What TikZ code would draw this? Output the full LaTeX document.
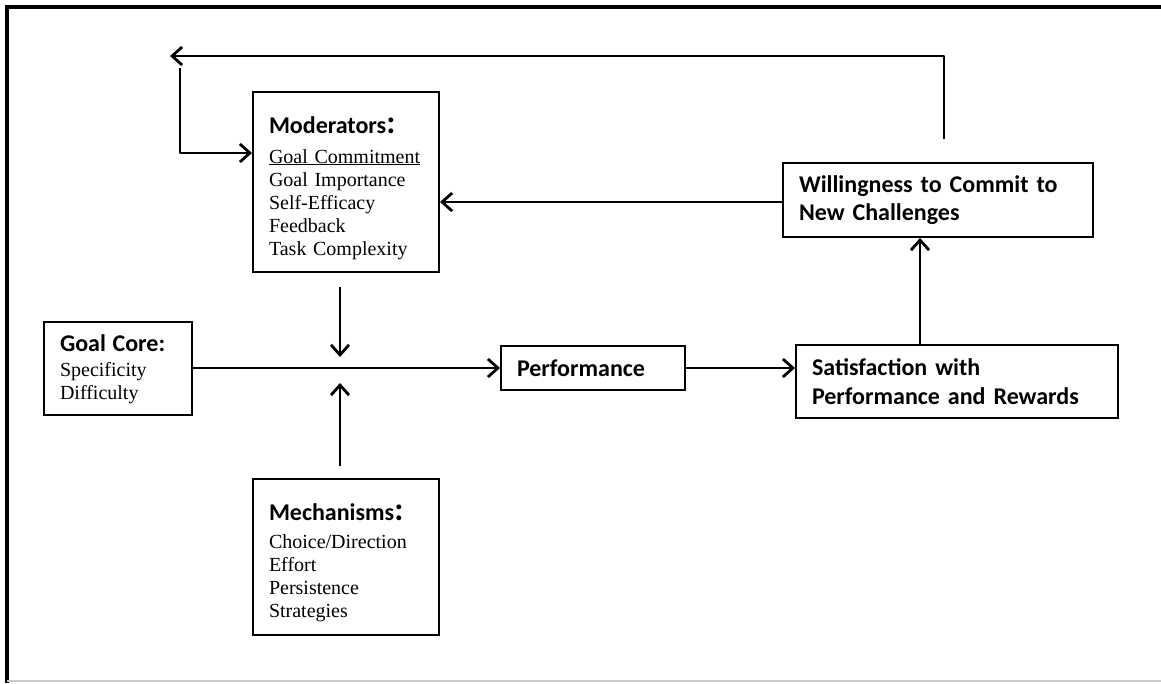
\documentclass[tikz,border=0pt]{standalone}
\usepackage{fontspec}
\setmainfont{Liberation Serif}
\newfontfamily\headfont{Carlito}
\usetikzlibrary{arrows.meta,calc}

\newcommand{\boxhead}[1]{{\headfont\bfseries\fontsize{24}{29}\selectfont #1}}
\newcommand{\bigcolon}{{\fontsize{33}{33}\selectfont:}}

\begin{document}
\begin{tikzpicture}[
    x=1pt, y=-1pt,
    box/.style={rectangle, draw, line width=2pt, inner xsep=16pt, inner ysep=0pt, align=left, font=\fontsize{20}{23}\selectfont},
    headbox/.style={box, font=\headfont\bfseries\fontsize{24}{28.5}\selectfont},
    arrow/.style={-{Straight Barb[length=10pt,width=18pt]}, line width=2.8pt, line join=round}
]
    \useasboundingbox (0,0) rectangle (1161,683);
    % frame
    \draw[line width=4pt] (7,683) -- (7,7) -- (1161,7);
    \draw[black!20, line width=1.5pt] (7,681) -- (1161,681);

    \node[box, text width=154pt, minimum height=180pt] (mod) at (346,182)
        {\rule{0pt}{28.5pt}\boxhead{Moderators\bigcolon}\\[7pt]
         \underline{Goal Commitment}\\ Goal Importance\\ Self-Efficacy\\ Feedback\\ Task Complexity};
    \node[box, text width=154pt, minimum height=156pt] (mech) at (346,557)
        {\rule{0pt}{29pt}\boxhead{Mechanisms\bigcolon}\\[5pt]
         Choice/Direction\\ Effort\\ Persistence\\ Strategies};
    \node[box, text width=116pt, minimum height=93pt] (core) at (118,368)
        {\rule{0pt}{19pt}\boxhead{Goal Core:}\\[2pt] Specificity\\ Difficulty};
    \node[headbox, text width=152pt, minimum height=44pt] (perf) at (593,368) {Performance};
    \node[headbox, text width=290pt, minimum height=73pt] (sat) at (957,381.5)
        {Satisfaction with\\ Performance and Rewards};
    \node[headbox, text width=278pt, minimum height=74pt] (will) at (938,200)
        {Willingness to Commit to\\ New Challenges};

    \coordinate (join) at (340,368);
    \coordinate (back) at (170,56);
    \coordinate (loop) at (180,68);

    \draw[arrow] (core) -- (perf);
    \draw[arrow, shorten <=14pt, shorten >=11pt] (mod.south -| join) -- (join);
    \draw[arrow, shorten <=12pt, shorten >=15pt] (mech.north -| join) -- (join);
    \draw[arrow] (perf.east) -- (perf.east -| sat.west);
    \draw[arrow] ([xshift=-37pt]sat.north) -- ([xshift=-37pt]sat.north |- will.south);
    \draw[arrow] ([yshift=-2pt]will.west) -- ([yshift=-2pt]will.west -| mod.east);
    \draw[arrow, shorten <=23pt] ([xshift=6pt]will.north) |- (back);
    \draw[arrow] (loop) |- ([yshift=29pt]mod.west);
\end{tikzpicture}
\end{document}
